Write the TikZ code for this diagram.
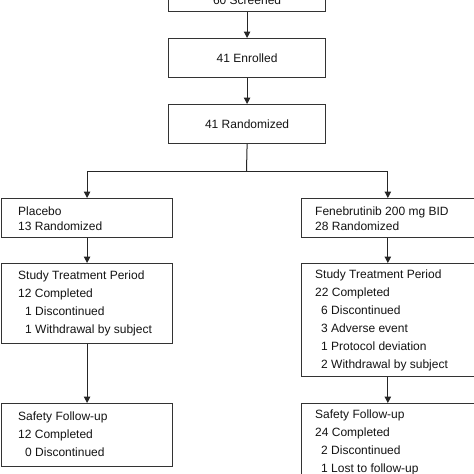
\documentclass[tikz,border=0pt]{standalone}
\usepackage{fontspec}
\setmainfont{Liberation Sans}
\usetikzlibrary{arrows.meta,calc}
\begin{document}
\begin{tikzpicture}[x=1pt,y=-1pt,
  box/.style={draw=black!80, line width=1.2pt, rectangle, inner sep=0pt, anchor=north west},
  ctxt/.style={font=\fontsize{12}{15}\selectfont, text=black!92},
  ltxt/.style={font=\fontsize{12}{15}\selectfont, text=black!92, align=left, anchor=west, inner sep=0pt},
  mtxt/.style={font=\fontsize{12}{18}\selectfont, text=black!92, align=left, anchor=west, inner sep=0pt},
  arr/.style={draw=black!85, line width=1pt, -{Triangle[length=6.5pt,width=6.5pt]}},
  ln/.style={draw=black!85, line width=1pt}]
\clip (0,0) rectangle (474,474);
\fill[white] (0,0) rectangle (474,474);
% top column
\node[box, minimum width=157pt, minimum height=22pt, ctxt] (scr) at (168,-11) {60 Screened};
\node[box, minimum width=157pt, minimum height=39pt, ctxt] (enr) at (168,38) {41 Enrolled};
\node[box, minimum width=157pt, minimum height=39pt, ctxt] (ran) at (168,104) {41 Randomized};
% arm boxes
\node[box, minimum width=171pt, minimum height=39pt] (pl) at (1,198) {};
\node[box, minimum width=172.5pt, minimum height=39pt] (fe) at (301,198) {};
\node[box, minimum width=171pt, minimum height=80pt] (stl) at (1,263) {};
\node[box, minimum width=172.5pt, minimum height=113pt] (str) at (301,263) {};
\node[box, minimum width=171pt, minimum height=63pt] (sfl) at (1,403) {};
\node[box, minimum width=172.5pt, minimum height=100pt] (sfr) at (301,403) {};
% texts
\node[ltxt] (plt) at (18,218.5) {Placebo\\13 Randomized};
\node[ltxt] (fet) at (315,218.5) {Fenebrutinib 200 mg BID\\28 Randomized};
\node[mtxt] (stlt) at (18,303.5) {Study Treatment Period\\12 Completed\\\hspace*{7pt}1 Discontinued\\\hspace*{7pt}1 Withdrawal by subject};
\node[mtxt] (strt) at (315,320) {Study Treatment Period\\22 Completed\\\hspace*{6pt}6 Discontinued\\\hspace*{6pt}3 Adverse event\\\hspace*{6pt}1 Protocol deviation\\\hspace*{6pt}2 Withdrawal by subject};
\node[mtxt] (sflt) at (18,434) {Safety Follow-up\\12 Completed\\\hspace*{7pt}0 Discontinued};
\node[mtxt] (sfrt) at (315,442) {Safety Follow-up\\24 Completed\\\hspace*{6pt}2 Discontinued\\\hspace*{6pt}1 Lost to follow-up};
% connectors
\coordinate (fork) at (246.5,171);
\draw[arr] (scr.south) -- (enr.north);
\draw[arr] (enr.south) -- (ran.north);
\draw[ln] (ran.south) -- (fork);
\draw[arr] (fork) -| (pl.north);
\draw[arr] (fork) -| (fe.north);
\draw[arr] (pl.south) -- (stl.north);
\draw[arr] (stl.south) -- (sfl.north);
\draw[arr] (fe.south) -- (str.north);
\draw[arr] (str.south) -- (sfr.north);
\end{tikzpicture}
\end{document}
